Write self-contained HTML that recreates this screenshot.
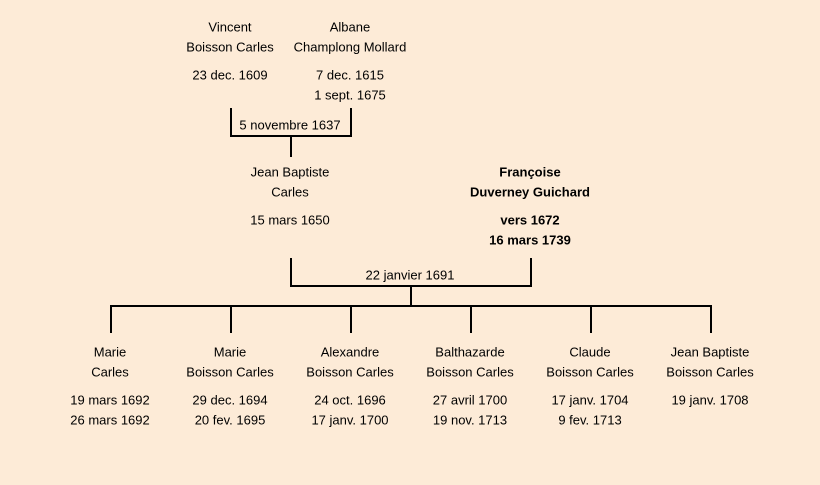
<!DOCTYPE html>
<html><head><meta charset="utf-8"><style>
html,body{margin:0;padding:0;background:#fdebd7;}
svg{display:block}
text{font-family:"Liberation Sans",sans-serif;font-size:13px;fill:#000;text-anchor:middle;dominant-baseline:central}
.b{font-weight:bold}
</style></head><body>
<svg width="820" height="485" viewBox="0 0 820 485" xmlns="http://www.w3.org/2000/svg">
<rect width="820" height="485" fill="#fdebd7"/>
<g stroke="#000" stroke-width="2" fill="none">
<path d="M231 108V136H351V108M291 136V157"/>
<path d="M291 258V286H531V258M411 286V306"/>
<path d="M110 306H712"/>
<path d="M111 306V333M231 306V333M351 306V333M471 306V333M591 306V333M711 306V333"/>
</g>
<text x="230" y="27">Vincent</text><text x="230" y="47">Boisson Carles</text><text x="230" y="75">23 dec. 1609</text>
<text x="350" y="27">Albane</text><text x="350" y="47">Champlong Mollard</text><text x="350" y="75">7 dec. 1615</text><text x="350" y="95">1 sept. 1675</text>
<text x="290" y="125">5 novembre 1637</text>
<text x="290" y="172">Jean Baptiste</text><text x="290" y="192">Carles</text><text x="290" y="220">15 mars 1650</text>
<text class="b" x="530" y="172">Françoise</text><text class="b" x="530" y="192">Duverney Guichard</text><text class="b" x="530" y="220">vers 1672</text><text class="b" x="530" y="240">16 mars 1739</text>
<text x="410" y="275">22 janvier 1691</text>
<text x="110" y="352">Marie</text><text x="110" y="372">Carles</text><text x="110" y="400">19 mars 1692</text><text x="110" y="420">26 mars 1692</text>
<text x="230" y="352">Marie</text><text x="230" y="372">Boisson Carles</text><text x="230" y="400">29 dec. 1694</text><text x="230" y="420">20 fev. 1695</text>
<text x="350" y="352">Alexandre</text><text x="350" y="372">Boisson Carles</text><text x="350" y="400">24 oct. 1696</text><text x="350" y="420">17 janv. 1700</text>
<text x="470" y="352">Balthazarde</text><text x="470" y="372">Boisson Carles</text><text x="470" y="400">27 avril 1700</text><text x="470" y="420">19 nov. 1713</text>
<text x="590" y="352">Claude</text><text x="590" y="372">Boisson Carles</text><text x="590" y="400">17 janv. 1704</text><text x="590" y="420">9 fev. 1713</text>
<text x="710" y="352">Jean Baptiste</text><text x="710" y="372">Boisson Carles</text><text x="710" y="400">19 janv. 1708</text>
</svg>
</body></html>
